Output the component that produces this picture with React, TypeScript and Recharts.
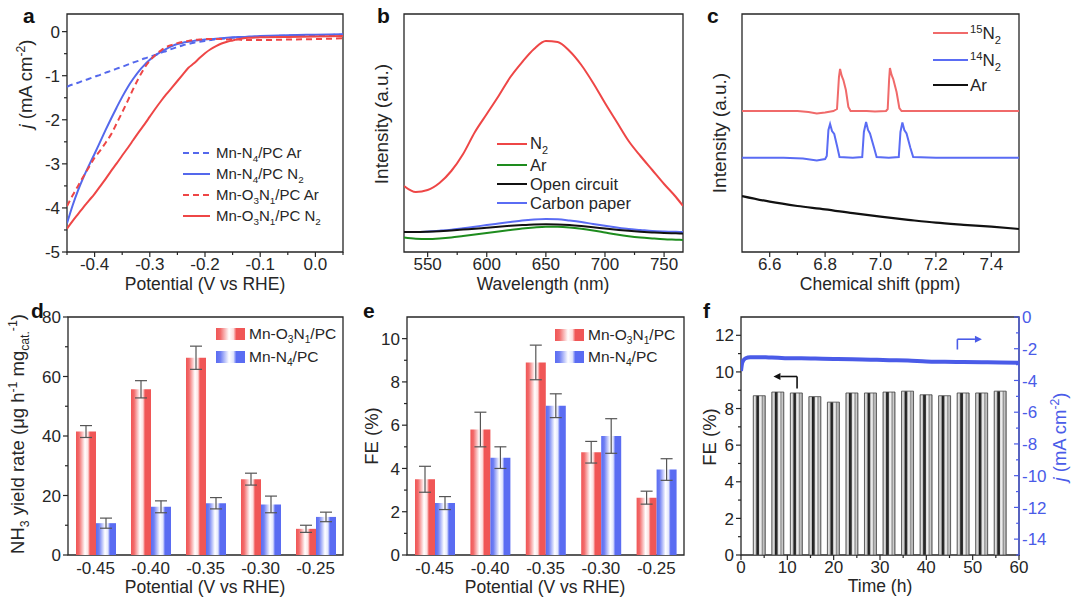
import React from 'react';
import { ComposedChart, Line, Bar, XAxis, YAxis, ReferenceArea, ReferenceLine, ErrorBar } from 'recharts';

const FONT = '"Liberation Sans", Arial, Helvetica, sans-serif';
const INK = '#262626';
const RED = '#ee4646';
const BLUE = '#5468ec';
const GREEN = '#1e8c1e';
const BLACK = '#111111';
const C_RED = '#f06a6a';
const C_BLUE = '#5a6cf4';
const F_BLUE = '#4a5be8';

// ---------- panel a : LSV ----------
const aPotential = [-0.45, -0.44, -0.43, -0.42, -0.41, -0.40, -0.39, -0.38, -0.37, -0.36, -0.35, -0.34, -0.33, -0.32, -0.31, -0.30, -0.29, -0.28, -0.27, -0.26, -0.25, -0.24, -0.23, -0.22, -0.21, -0.20, -0.19, -0.18, -0.17, -0.16, -0.15, -0.14, -0.13, -0.12, -0.10, -0.05, 0.0, 0.05];
const aN4Ar = [-1.25, -1.2, -1.16, -1.11, -1.07, -1.02, -0.98, -0.93, -0.89, -0.84, -0.8, -0.75, -0.7, -0.66, -0.61, -0.57, -0.53, -0.48, -0.44, -0.39, -0.35, -0.31, -0.28, -0.25, -0.23, -0.21, -0.19, -0.17, -0.16, -0.15, -0.14, -0.13, -0.12, -0.12, -0.11, -0.09, -0.08, -0.07];
const aN4N2 = [-4.35, -3.95, -3.6, -3.3, -3.03, -2.77, -2.5, -2.23, -1.97, -1.72, -1.48, -1.26, -1.07, -0.9, -0.76, -0.64, -0.54, -0.46, -0.39, -0.33, -0.28, -0.25, -0.23, -0.21, -0.19, -0.18, -0.17, -0.16, -0.15, -0.14, -0.13, -0.12, -0.12, -0.11, -0.1, -0.08, -0.07, -0.06];
const aO3N1Ar = [-3.96, -3.72, -3.5, -3.28, -3.07, -2.86, -2.7, -2.52, -2.33, -2.08, -1.83, -1.57, -1.3, -1.05, -0.83, -0.66, -0.53, -0.43, -0.35, -0.3, -0.26, -0.23, -0.21, -0.19, -0.18, -0.17, -0.17, -0.17, -0.17, -0.18, -0.18, -0.18, -0.19, -0.19, -0.19, -0.18, -0.17, -0.15];
const aO3N1N2 = [-4.47, -4.3, -4.14, -3.98, -3.83, -3.68, -3.51, -3.34, -3.16, -2.99, -2.81, -2.64, -2.46, -2.28, -2.11, -1.93, -1.75, -1.58, -1.42, -1.27, -1.12, -0.97, -0.82, -0.72, -0.6, -0.49, -0.4, -0.33, -0.27, -0.23, -0.2, -0.17, -0.15, -0.14, -0.13, -0.12, -0.11, -0.1];
const aXMajor = [-0.4, -0.3, -0.2, -0.1, 0.0];
const aXMinor = [-0.45, -0.35, -0.25, -0.15, -0.05, 0.05];
const aYMajor = [-5, -4, -3, -2, -1, 0];
const aYMinor = [-4.5, -3.5, -2.5, -1.5, -0.5];

// ---------- panel b : UV-vis ----------
const bWavelength = [530, 540, 550, 560, 570, 580, 590, 600, 610, 620, 630, 640, 650, 660, 670, 680, 690, 700, 710, 720, 730, 740, 750, 760, 766];
const bN2 = [66, 60, 62, 69, 81, 98, 120, 138, 156, 175, 190, 203, 211, 210, 201, 187, 169, 149, 130, 111, 96, 82, 68, 55, 46];
const bAr = [14.5, 13.3, 13, 13.5, 14.5, 16, 17.5, 19, 20.5, 22, 23.5, 24.6, 25.3, 25.2, 24.5, 23.2, 21.5, 19.5, 17.5, 15.8, 14.5, 13.6, 12.8, 12.3, 12];
const bOpen = [20, 20, 20.3, 20.8, 21.5, 22.4, 23.3, 24.3, 25.3, 26.2, 27, 27.6, 27.8, 27.6, 27, 26, 24.8, 23.5, 22.3, 21.2, 20.3, 19.6, 19, 18.7, 18.5];
const bCarbon = [20, 20, 20.5, 21.3, 22.3, 23.8, 25.3, 27, 28.5, 30, 31.5, 32.5, 33, 32.7, 31.5, 30, 28, 26.2, 24.5, 23, 22, 21, 20.5, 20.2, 20];
const bXMajor = [550, 600, 650, 700, 750];
const bXMinor = [575, 625, 675, 725];

// ---------- panel c : 1H NMR ----------
const c15Shift = [6.5, 6.6, 6.7, 6.74, 6.77, 6.8, 6.83, 6.843, 6.85, 6.854, 6.86, 6.866, 6.875, 6.884, 6.892, 6.95, 6.98, 7.02, 7.026, 7.031, 7.034, 7.04, 7.046, 7.058, 7.068, 7.076, 7.2, 7.5];
const c15Int = [141, 141, 141, 140, 138.5, 139.5, 141, 143, 175, 183, 176, 172, 162, 145, 141, 141, 140.5, 141, 143, 172, 184, 177, 173, 160, 144, 141, 141, 141];
const c14Shift = [6.5, 6.65, 6.72, 6.77, 6.8, 6.806, 6.812, 6.818, 6.825, 6.833, 6.844, 6.852, 6.9, 6.934, 6.94, 6.948, 6.955, 6.962, 6.977, 6.986, 7.03, 7.066, 7.072, 7.079, 7.086, 7.094, 7.108, 7.118, 7.2, 7.5];
const c14Int = [94.3, 94.3, 93.5, 91.5, 93, 96, 122, 128, 121, 118, 105, 95, 94.3, 95, 120, 130, 122, 118.5, 104, 95, 94.3, 95, 120, 129.5, 122, 118.5, 104, 95, 94.3, 94.3];
const cArShift = [6.5, 6.6, 6.7, 6.8, 6.9, 7.0, 7.1, 7.2, 7.3, 7.4, 7.5];
const cArInt = [56, 50.3, 46, 42.7, 38.8, 35.3, 32.2, 29.3, 27.2, 25.3, 23];
const cXMajor = [6.6, 6.8, 7.0, 7.2, 7.4];
const cXMinor = [6.7, 6.9, 7.1, 7.3];

// ---------- panel d / e : bars ----------
const dePotential = ['-0.45', '-0.40', '-0.35', '-0.30', '-0.25'];
const dYieldO3N1 = [41.5, 55.7, 66.3, 25.5, 8.8];
const dYieldO3N1Err = [2, 2.9, 3.9, 2, 1.2];
const dYieldN4 = [10.7, 16.2, 17.4, 17.0, 12.8];
const dYieldN4Err = [1.7, 2, 1.9, 2.8, 1.6];
const dYMajor = [0, 20, 40, 60, 80];
const dYMinor = [10, 30, 50, 70];
const eFEO3N1 = [3.5, 5.8, 8.9, 4.75, 2.65];
const eFEO3N1Err = [0.6, 0.8, 0.8, 0.5, 0.3];
const eFEN4 = [2.4, 4.5, 6.9, 5.5, 3.95];
const eFEN4Err = [0.3, 0.5, 0.55, 0.8, 0.5];
const eYMajor = [0, 2, 4, 6, 8, 10];
const eYMinor = [1, 3, 5, 7, 9];

// ---------- panel f : stability ----------
const fTime = [4, 8, 12, 16, 20, 24, 28, 32, 36, 40, 44, 48, 52, 56];
const fFE = [8.7, 8.9, 8.85, 8.65, 8.35, 8.85, 8.85, 8.9, 8.95, 8.75, 8.7, 8.85, 8.85, 8.95];
const fJTime = [0, 0.3, 1, 2, 4, 6, 8, 10, 13, 16, 20, 24, 28, 32, 36, 40, 44, 48, 52, 56, 60];
const fJ = [-3.4, -2.85, -2.6, -2.54, -2.53, -2.55, -2.57, -2.6, -2.6, -2.62, -2.65, -2.66, -2.69, -2.72, -2.74, -2.8, -2.82, -2.84, -2.85, -2.86, -2.88];
const fXMajor = [0, 10, 20, 30, 40, 50, 60];
const fXMinor = [5, 15, 25, 35, 45, 55];
const fYLMajor = [0, 2, 4, 6, 8, 10, 12];
const fYLMinor = [1, 3, 5, 7, 9, 11];
const fYRMajor = [-14, -12, -10, -8, -6, -4, -2, 0];
const fYRMinor = [-15, -13, -11, -9, -7, -5, -3, -1];

// ---------- data tables ----------
const aData = aPotential.map((x, i) => ({ x, n4ar: aN4Ar[i], n4n2: aN4N2[i], o3ar: aO3N1Ar[i], o3n2: aO3N1N2[i] }));
const bData = bWavelength.map((x, i) => ({ x, n2: bN2[i], ar: bAr[i], open: bOpen[i], carbon: bCarbon[i] }));
const c15Data = c15Shift.map((x, i) => ({ x, v: c15Int[i] }));
const c14Data = c14Shift.map((x, i) => ({ x, v: c14Int[i] }));
const cArData = cArShift.map((x, i) => ({ x, v: cArInt[i] }));
const dData = dePotential.map((cat, i) => ({ cat, red: dYieldO3N1[i], redErr: dYieldO3N1Err[i], blue: dYieldN4[i], blueErr: dYieldN4Err[i] }));
const eData = dePotential.map((cat, i) => ({ cat, red: eFEO3N1[i], redErr: eFEO3N1Err[i], blue: eFEN4[i], blueErr: eFEN4Err[i] }));
const fData = fTime.map((t, i) => ({ t, fe: fFE[i] }));
const fJData = fJTime.map((t, i) => ({ t, j: fJ[i] }));

const merge = (a: number[], b: number[]) => [...a, ...b].sort((p, q) => p - q);
const near = (arr: number[], v: number) => arr.some((m) => Math.abs(m - v) < 1e-6);

// ---------- tick renderers ----------
const TICK_FS = 17;
function xTick(majors: number[], fmt: (v: number) => string) {
  return (p: any) => {
    const v = Number(p.payload.value);
    const maj = near(majors, v);
    return (
      <g>
        <line x1={p.x} x2={p.x} y1={p.y} y2={p.y + (maj ? 5 : 3)} stroke={INK} strokeWidth={1.2} />
        {maj && (
          <text x={p.x} y={p.y + 6} dy="0.72em" textAnchor="middle" fontSize={TICK_FS} fill={INK} fontFamily={FONT}>
            {fmt(v)}
          </text>
        )}
      </g>
    );
  };
}
function yTickLeft(majors: number[], fmt: (v: number) => string) {
  return (p: any) => {
    const v = Number(p.payload.value);
    const maj = near(majors, v);
    return (
      <g>
        <line x1={p.x} x2={p.x - (maj ? 5 : 3)} y1={p.y} y2={p.y} stroke={INK} strokeWidth={1.2} />
        {maj && (
          <text x={p.x - 7} y={p.y} dy="0.36em" textAnchor="end" fontSize={TICK_FS} fill={INK} fontFamily={FONT}>
            {fmt(v)}
          </text>
        )}
      </g>
    );
  };
}
function yTickRight(majors: number[], color: string) {
  return (p: any) => {
    const v = Number(p.payload.value);
    const maj = near(majors, v);
    return (
      <g>
        <line x1={p.x} x2={p.x - (maj ? 5 : 3)} y1={p.y} y2={p.y} stroke={color} strokeWidth={1.2} />
        {maj && (
          <text x={p.x + 3} y={p.y} dy="0.36em" textAnchor="start" fontSize={TICK_FS} fill={color} fontFamily={FONT}>
            {String(v)}
          </text>
        )}
      </g>
    );
  };
}
const catTick = (p: any) => (
  <text x={p.x} y={p.y + 7} dy="0.72em" textAnchor="middle" fontSize={TICK_FS} fill={INK} fontFamily={FONT}>
    {p.payload.value}
  </text>
);

const arrowShape = (color: string) => (p: any) => {
  const { x1, y1, x2, y2 } = p;
  const dx = x2 - x1;
  const dy = y2 - y1;
  const len = Math.sqrt(dx * dx + dy * dy) || 1;
  const ux = dx / len;
  const uy = dy / len;
  const hl = 7;
  const hw = 3.5;
  const bx = x2 - ux * hl;
  const by = y2 - uy * hl;
  return (
    <g>
      <line x1={x1} y1={y1} x2={bx} y2={by} stroke={color} strokeWidth={1.6} />
      <polygon points={`${x2},${y2} ${bx - uy * hw},${by + ux * hw} ${bx + uy * hw},${by - ux * hw}`} fill={color} />
    </g>
  );
};

// ---------- layout helper ----------
function box(px0: number, py0: number, px1: number, py1: number, yw: number, xh: number, rw = 0) {
  const m = 10;
  return {
    style: { position: 'absolute' as const, left: px0 - yw - m, top: py0 - m },
    width: px1 - px0 + yw + rw + 2 * m,
    height: py1 - py0 + xh + 2 * m,
    margin: { top: m, right: m, bottom: m, left: m },
  };
}

const axisCommon = { tickLine: false, axisLine: false, tickSize: 0, tickMargin: 0, interval: 0 as const, allowDataOverflow: true };
const frame = { fill: 'none', stroke: INK, strokeWidth: 1.3, ifOverflow: 'visible' as const };

// ---------- rich text ----------
type Part = { t: string; k?: 'sub' | 'sup'; it?: boolean };
function Rich({ x, y, parts, size, anchor = 'start', fill = INK, rotate = false, weight = 'normal' }: { x: number; y: number; parts: Part[]; size: number; anchor?: string; fill?: string; rotate?: boolean; weight?: string }) {
  let cur = 0;
  const spans = parts.map((p, i) => {
    const target = p.k === 'sub' ? size * 0.28 : p.k === 'sup' ? -size * 0.38 : 0;
    const dy = target - cur;
    cur = target;
    return (
      <tspan key={i} dy={dy} fontSize={p.k ? size * 0.66 : size} fontStyle={p.it ? 'italic' : 'normal'}>
        {p.t}
      </tspan>
    );
  });
  return (
    <text x={x} y={y} textAnchor={anchor as any} fill={fill} fontSize={size} fontFamily={FONT} fontWeight={weight} style={{ whiteSpace: 'pre' }} transform={rotate ? `rotate(-90 ${x} ${y})` : undefined}>
      {spans}
    </text>
  );
}

const TITLE = 17.5;
const YTITLE = 18.5;

function PanelA() {
  const b = box(67, 14, 343, 252, 45, 30);
  return (
    <div style={b.style}>
      <ComposedChart width={b.width} height={b.height} data={aData} margin={b.margin}>
        <XAxis dataKey="x" type="number" domain={[-0.45, 0.05]} ticks={merge(aXMajor, aXMinor)} tick={xTick(aXMajor, (v) => v.toFixed(1))} height={30} {...axisCommon} />
        <YAxis type="number" domain={[-5, 0.4]} ticks={merge(aYMajor, aYMinor)} tick={yTickLeft(aYMajor, (v) => String(v))} width={45} {...axisCommon} />
        <Line type="monotone" dataKey="n4ar" stroke={BLUE} strokeWidth={2} strokeDasharray="6 4" dot={false} isAnimationActive={false} />
        <Line type="monotone" dataKey="n4n2" stroke={BLUE} strokeWidth={2} dot={false} isAnimationActive={false} />
        <Line type="monotone" dataKey="o3ar" stroke={RED} strokeWidth={2} strokeDasharray="6 4" dot={false} isAnimationActive={false} />
        <Line type="monotone" dataKey="o3n2" stroke={RED} strokeWidth={2} dot={false} isAnimationActive={false} />
        <ReferenceArea x1={-0.45} x2={0.05} y1={-5} y2={0.4} {...frame} />
      </ComposedChart>
    </div>
  );
}

function PanelB() {
  const b = box(404, 14, 683, 252, 0, 30);
  return (
    <div style={b.style}>
      <ComposedChart width={b.width} height={b.height} data={bData} margin={b.margin}>
        <XAxis dataKey="x" type="number" domain={[530, 766]} ticks={merge(bXMajor, bXMinor)} tick={xTick(bXMajor, (v) => String(v))} height={30} {...axisCommon} />
        <YAxis type="number" domain={[0, 238]} hide allowDataOverflow />
        <Line type="monotone" dataKey="n2" stroke={RED} strokeWidth={2} dot={false} isAnimationActive={false} />
        <Line type="monotone" dataKey="ar" stroke={GREEN} strokeWidth={2} dot={false} isAnimationActive={false} />
        <Line type="monotone" dataKey="carbon" stroke={C_BLUE} strokeWidth={2} dot={false} isAnimationActive={false} />
        <Line type="monotone" dataKey="open" stroke={BLACK} strokeWidth={2} dot={false} isAnimationActive={false} />
        <ReferenceArea x1={530} x2={766} y1={0} y2={238} {...frame} />
      </ComposedChart>
    </div>
  );
}

function PanelC() {
  const b = box(742, 14, 1019, 252, 0, 30);
  return (
    <div style={b.style}>
      <ComposedChart width={b.width} height={b.height} margin={b.margin}>
        <XAxis dataKey="x" type="number" domain={[6.5, 7.5]} ticks={merge(cXMajor, cXMinor)} tick={xTick(cXMajor, (v) => v.toFixed(1))} height={30} {...axisCommon} />
        <YAxis type="number" domain={[0, 238]} hide allowDataOverflow />
        <Line data={cArData} type="monotone" dataKey="v" stroke={BLACK} strokeWidth={2.2} dot={false} isAnimationActive={false} />
        <Line data={c14Data} type="linear" dataKey="v" stroke={C_BLUE} strokeWidth={2} dot={false} isAnimationActive={false} />
        <Line data={c15Data} type="linear" dataKey="v" stroke={C_RED} strokeWidth={2} dot={false} isAnimationActive={false} />
        <ReferenceArea x1={6.5} x2={7.5} y1={0} y2={238} {...frame} />
      </ComposedChart>
    </div>
  );
}

function BarPanel({ data, px0, px1, yw, domain, majors, minors }: { data: any[]; px0: number; px1: number; yw: number; domain: [number, number]; majors: number[]; minors: number[] }) {
  const b = box(px0, 317, px1, 555, yw, 30);
  return (
    <div style={b.style}>
      <ComposedChart width={b.width} height={b.height} data={data} margin={b.margin} barGap={0}>
        <XAxis dataKey="cat" type="category" tick={catTick} height={30} tickLine={false} axisLine={false} tickSize={0} tickMargin={0} interval={0} />
        <YAxis type="number" domain={domain} ticks={merge(majors, minors)} tick={yTickLeft(majors, (v) => String(v))} width={yw} {...axisCommon} />
        <Bar dataKey="red" fill="url(#gradRed)" barSize={20} isAnimationActive={false}>
          <ErrorBar dataKey="redErr" width={6} stroke="#555" strokeWidth={1.2} direction="y" />
        </Bar>
        <Bar dataKey="blue" fill="url(#gradBlue)" barSize={20} isAnimationActive={false}>
          <ErrorBar dataKey="blueErr" width={6} stroke="#555" strokeWidth={1.2} direction="y" />
        </Bar>
        <ReferenceArea x1={dePotential[0]} x2={dePotential[dePotential.length - 1]} y1={domain[0]} y2={domain[1]} {...frame} />
      </ComposedChart>
    </div>
  );
}

function PanelF() {
  const b = box(741, 317, 1019, 555, 40, 30, 50);
  return (
    <div style={b.style}>
      <ComposedChart width={b.width} height={b.height} data={fData} margin={b.margin}>
        <XAxis dataKey="t" type="number" domain={[0, 60]} ticks={merge(fXMajor, fXMinor)} tick={xTick(fXMajor, (v) => String(v))} height={30} {...axisCommon} />
        <XAxis xAxisId="line" dataKey="t" type="number" domain={[0, 60]} hide allowDataOverflow />
        <YAxis yAxisId="left" type="number" domain={[0, 13]} ticks={merge(fYLMajor, fYLMinor)} tick={yTickLeft(fYLMajor, (v) => String(v))} width={40} {...axisCommon} />
        <YAxis yAxisId="right" orientation="right" type="number" domain={[-15, 0]} ticks={merge(fYRMajor, fYRMinor)} tick={yTickRight(fYRMajor, F_BLUE)} width={50} {...axisCommon} />
        <Bar yAxisId="left" dataKey="fe" barSize={12} fill="url(#gradGray)" stroke="#444" strokeWidth={0.8} isAnimationActive={false} />
        <Line xAxisId="line" yAxisId="right" data={fJData} type="monotone" dataKey="j" stroke={F_BLUE} strokeWidth={4} dot={false} isAnimationActive={false} />
        <ReferenceArea yAxisId="left" x1={0} x2={60} y1={0} y2={13} {...frame} />
        <ReferenceLine yAxisId="left" x={60} stroke={F_BLUE} strokeWidth={1.3} ifOverflow="visible" />
        <ReferenceLine yAxisId="left" segment={[{ x: 12.1, y: 9.1 }, { x: 12.1, y: 9.75 }]} stroke={BLACK} strokeWidth={1.6} ifOverflow="visible" />
        <ReferenceLine yAxisId="left" segment={[{ x: 12.1, y: 9.75 }, { x: 7.0, y: 9.75 }]} shape={arrowShape(BLACK)} ifOverflow="visible" />
        <ReferenceLine yAxisId="right" segment={[{ x: 46.7, y: -2.05 }, { x: 46.7, y: -1.4 }]} stroke={F_BLUE} strokeWidth={1.6} ifOverflow="visible" />
        <ReferenceLine yAxisId="right" segment={[{ x: 46.7, y: -1.4 }, { x: 52, y: -1.4 }]} shape={arrowShape(F_BLUE)} ifOverflow="visible" />
      </ComposedChart>
    </div>
  );
}

function Overlay() {
  const L = 15.5;
  const sw = (y: number, id: string, x: number) => <rect x={x} y={y - 6} width={29} height={12} fill={`url(#${id})`} />;
  return (
    <svg width={1080} height={604} style={{ position: 'absolute', left: 0, top: 0, pointerEvents: 'none' }}>
      {[['a', 23, 23], ['b', 377, 23], ['c', 707, 23], ['d', 31, 318], ['e', 363, 318], ['f', 703, 318]].map(([t, x, y]) => (
        <text key={t as string} x={x as number} y={y as number} fontSize={21} fontWeight="bold" fontFamily={FONT} fill="#111">
          {t}
        </text>
      ))}
      <Rich x={205} y={290} size={TITLE} anchor="middle" parts={[{ t: 'Potential (V vs RHE)' }]} />
      <Rich x={32} y={84} size={YTITLE} anchor="middle" rotate parts={[{ t: 'j', it: true }, { t: ' (mA cm' }, { t: '-2', k: 'sup' }, { t: ')' }]} />
      <Rich x={543} y={290} size={TITLE} anchor="middle" parts={[{ t: 'Wavelength (nm)' }]} />
      <Rich x={388} y={124} size={19} anchor="middle" rotate parts={[{ t: 'Intensity (a.u.)' }]} />
      <Rich x={880} y={290} size={TITLE} anchor="middle" parts={[{ t: 'Chemical shift (ppm)' }]} />
      <Rich x={726} y={133} size={19} anchor="middle" rotate parts={[{ t: 'Intensity (a.u.)' }]} />
      <Rich x={205} y={593} size={TITLE} anchor="middle" parts={[{ t: 'Potential (V vs RHE)' }]} />
      <Rich x={24} y={434} size={YTITLE} anchor="middle" rotate parts={[{ t: 'NH' }, { t: '3', k: 'sub' }, { t: ' yield rate (\u03bcg h' }, { t: '-1', k: 'sup' }, { t: ' mg' }, { t: 'cat.', k: 'sub' }, { t: '-1', k: 'sup' }, { t: ')' }]} />
      <Rich x={545} y={593} size={TITLE} anchor="middle" parts={[{ t: 'Potential (V vs RHE)' }]} />
      <Rich x={378} y={436} size={YTITLE} anchor="middle" rotate parts={[{ t: 'FE (%)' }]} />
      <Rich x={880} y={592} size={TITLE} anchor="middle" parts={[{ t: 'Time (h)' }]} />
      <Rich x={716} y={437} size={YTITLE} anchor="middle" rotate parts={[{ t: 'FE (%)' }]} />
      <Rich x={1066} y={437} size={YTITLE} anchor="middle" rotate fill={F_BLUE} parts={[{ t: 'j', it: true }, { t: ' (mA cm' }, { t: '-2', k: 'sup' }, { t: ')' }]} />

      {/* legend a */}
      <line x1={183} x2={210} y1={153} y2={153} stroke={BLUE} strokeWidth={2} strokeDasharray="6 4" />
      <Rich x={216} y={158} size={15} parts={[{ t: 'Mn-N' }, { t: '4', k: 'sub' }, { t: '/PC Ar' }]} />
      <line x1={183} x2={210} y1={174} y2={174} stroke={BLUE} strokeWidth={2} />
      <Rich x={216} y={179} size={15} parts={[{ t: 'Mn-N' }, { t: '4', k: 'sub' }, { t: '/PC N' }, { t: '2', k: 'sub' }]} />
      <line x1={183} x2={210} y1={195} y2={195} stroke={RED} strokeWidth={2} strokeDasharray="6 4" />
      <Rich x={216} y={200} size={15} parts={[{ t: 'Mn-O' }, { t: '3', k: 'sub' }, { t: 'N' }, { t: '1', k: 'sub' }, { t: '/PC Ar' }]} />
      <line x1={183} x2={210} y1={216} y2={216} stroke={RED} strokeWidth={2} />
      <Rich x={216} y={221} size={15} parts={[{ t: 'Mn-O' }, { t: '3', k: 'sub' }, { t: 'N' }, { t: '1', k: 'sub' }, { t: '/PC N' }, { t: '2', k: 'sub' }]} />

      {/* legend b */}
      <line x1={497} x2={527} y1={144} y2={144} stroke={RED} strokeWidth={2} />
      <Rich x={530} y={149} size={16.5} parts={[{ t: 'N' }, { t: '2', k: 'sub' }]} />
      <line x1={497} x2={527} y1={165} y2={165} stroke={GREEN} strokeWidth={2} />
      <Rich x={530} y={171} size={16.5} parts={[{ t: 'Ar' }]} />
      <line x1={497} x2={527} y1={184} y2={184} stroke={BLACK} strokeWidth={2} />
      <Rich x={530} y={190} size={16.5} parts={[{ t: 'Open circuit' }]} />
      <line x1={497} x2={527} y1={203} y2={203} stroke={C_BLUE} strokeWidth={2} />
      <Rich x={530} y={209} size={16.5} parts={[{ t: 'Carbon paper' }]} />

      {/* legend c */}
      <line x1={933} x2={968} y1={33} y2={33} stroke={C_RED} strokeWidth={2} />
      <Rich x={970} y={39} size={17} parts={[{ t: '15', k: 'sup' }, { t: 'N' }, { t: '2', k: 'sub' }]} />
      <line x1={933} x2={968} y1={60} y2={60} stroke={C_BLUE} strokeWidth={2} />
      <Rich x={970} y={66} size={17} parts={[{ t: '14', k: 'sup' }, { t: 'N' }, { t: '2', k: 'sub' }]} />
      <line x1={933} x2={968} y1={85} y2={85} stroke={BLACK} strokeWidth={2} />
      <Rich x={970} y={91} size={17} parts={[{ t: 'Ar' }]} />

      {/* legend d */}
      {sw(334, 'gradRed', 216)}
      <Rich x={249} y={339} size={L} parts={[{ t: 'Mn-O' }, { t: '3', k: 'sub' }, { t: 'N' }, { t: '1', k: 'sub' }, { t: '/PC' }]} />
      {sw(357, 'gradBlue', 216)}
      <Rich x={249} y={362} size={L} parts={[{ t: 'Mn-N' }, { t: '4', k: 'sub' }, { t: '/PC' }]} />

      {/* legend e */}
      {sw(335, 'gradRed', 555)}
      <Rich x={588} y={340} size={L} parts={[{ t: 'Mn-O' }, { t: '3', k: 'sub' }, { t: 'N' }, { t: '1', k: 'sub' }, { t: '/PC' }]} />
      {sw(357, 'gradBlue', 555)}
      <Rich x={588} y={362} size={L} parts={[{ t: 'Mn-N' }, { t: '4', k: 'sub' }, { t: '/PC' }]} />
    </svg>
  );
}

export default function App() {
  return (
    <div style={{ position: 'absolute', left: 0, top: 0, width: 1080, height: 604, background: '#fff', overflow: 'hidden', fontFamily: FONT }}>
      <svg width={0} height={0} style={{ position: 'absolute' }}>
        <defs>
          <linearGradient id="gradRed" x1="0" y1="0" x2="1" y2="0">
            <stop offset="0" stopColor="#f05656" />
            <stop offset="0.15" stopColor="#f26a6a" />
            <stop offset="0.45" stopColor="#ffffff" />
            <stop offset="0.6" stopColor="#fde0e0" />
            <stop offset="0.7" stopColor="#f05656" />
            <stop offset="1" stopColor="#f05656" />
          </linearGradient>
          <linearGradient id="gradBlue" x1="0" y1="0" x2="1" y2="0">
            <stop offset="0" stopColor="#5a6cf2" />
            <stop offset="0.15" stopColor="#6e7ef3" />
            <stop offset="0.45" stopColor="#ffffff" />
            <stop offset="0.6" stopColor="#e2e6fd" />
            <stop offset="0.7" stopColor="#5a6cf2" />
            <stop offset="1" stopColor="#5a6cf2" />
          </linearGradient>
          <linearGradient id="gradGray" x1="0" y1="0" x2="1" y2="0">
            <stop offset="0" stopColor="#9a9a9a" />
            <stop offset="0.1" stopColor="#e4e4e4" />
            <stop offset="0.22" stopColor="#bcbcbc" />
            <stop offset="0.3" stopColor="#1e1e1e" />
            <stop offset="0.45" stopColor="#333333" />
            <stop offset="0.52" stopColor="#dddddd" />
            <stop offset="0.64" stopColor="#f2f2f2" />
            <stop offset="0.76" stopColor="#8e8e8e" />
            <stop offset="0.88" stopColor="#cfcfcf" />
            <stop offset="1" stopColor="#888888" />
          </linearGradient>
        </defs>
      </svg>
      <PanelA />
      <PanelB />
      <PanelC />
      <BarPanel data={dData} px0={68} px1={343} yw={42} domain={[0, 80]} majors={dYMajor} minors={dYMinor} />
      <BarPanel data={eData} px0={407} px1={684} yw={42} domain={[0, 11]} majors={eYMajor} minors={eYMinor} />
      <PanelF />
      <Overlay />
    </div>
  );
}
